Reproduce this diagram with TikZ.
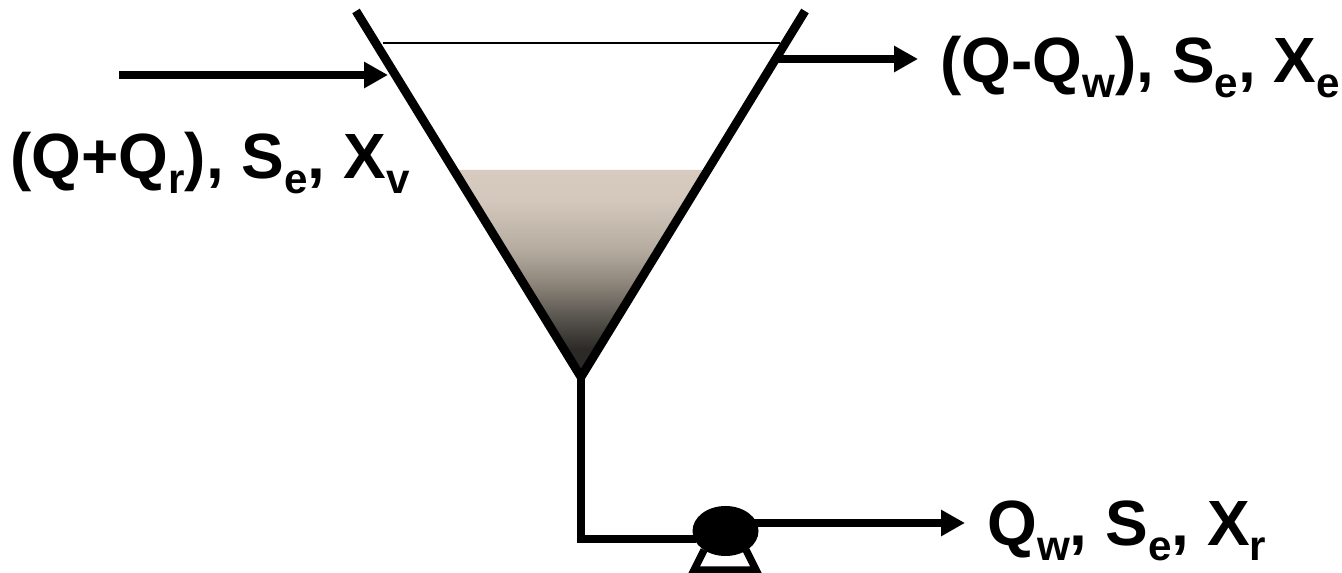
\documentclass[tikz,border=0pt]{standalone}
\usepackage{fontspec}
\setmainfont{Liberation Sans}
\usetikzlibrary{arrows.meta,shapes.geometric}
\definecolor{SludgeTop}{HTML}{D6CBBE}
\definecolor{SludgeA}{HTML}{D3C8BB}
\definecolor{SludgeB}{HTML}{B5AC9F}
\definecolor{SludgeC}{HTML}{8F877C}
\definecolor{SludgeD}{HTML}{5A5650}
\definecolor{SludgeE}{HTML}{2C2A27}
\pgfdeclareverticalshading{sludgefade}{100bp}{color(0bp)=(SludgeE); color(31.7bp)=(SludgeE); color(39.7bp)=(SludgeD); color(47.9bp)=(SludgeC); color(55.8bp)=(SludgeB); color(67.8bp)=(SludgeA); color(75bp)=(SludgeTop); color(100bp)=(SludgeTop)}
\newcommand{\lowtxt}[1]{\raisebox{-0.22em}{\fontsize{24pt}{24pt}\selectfont #1}}
\tikzset{
  figlabel/.style={font=\bfseries\fontsize{36.4pt}{38pt}\selectfont, text=black, inner sep=0pt, anchor=base west},
  tankwall/.style={line width=5pt, draw=black},
  pipeline/.style={line width=4.5pt, draw=black},
  flowarrow/.style={-{Triangle[length=0.48cm,width=0.5cm]}, line width=4.5pt, draw=black},
  pumpbody/.style={ellipse, fill=black, draw=none, minimum width=1.32cm, minimum height=1.0cm, inner sep=0pt}
}
\begin{document}
\begin{tikzpicture}
\useasboundingbox (0,0) rectangle (26.84,11.46);
\coordinate (walll) at (7.12,11.24);
\coordinate (wallr) at (16.10,11.24);
\coordinate (apex) at (11.62,3.92);
\coordinate (levell) at (7.66,10.60);
\coordinate (levelr) at (15.60,10.60);
\coordinate (sludgel) at (9.12,8.06);
\coordinate (sludger) at (14.12,8.06);
\coordinate (bend) at (11.62,0.68);
\coordinate (instart) at (2.38,9.96);
\coordinate (inend) at (7.76,9.96);
\coordinate (effstart) at (15.56,10.28);
\coordinate (effend) at (18.36,10.28);
\coordinate (wasteend) at (19.30,1.0);
% sludge blanket
\path[shading=sludgefade] (sludgel) -- (sludger) -- (apex) -- cycle;
% tank
\draw[line width=0.8pt] (levell) -- (levelr);
\draw[tankwall, line join=miter] (walll) -- (apex) -- (wallr);
% pump
\node[pumpbody] (pump) at (14.51,0.84) {};
\draw[line width=4.2pt, line join=miter] (14.08,0.46) -- (13.88,0.06) -- (15.12,0.06) -- (14.92,0.46);
% pipes
\draw[pipeline, line cap=rect] (apex) -- (bend) -- (pump.west |- bend);
\draw[flowarrow] (instart) -- (inend);
\draw[flowarrow] (effstart) -- (effend);
\draw[flowarrow] (pump.center |- wasteend) -- (wasteend);
% labels
\node[figlabel] (influent) at (0.2,7.88) {(Q+Q\lowtxt{r}), S\lowtxt{e}, X\lowtxt{v}};
\node[figlabel] (effluent) at (18.80,9.80) {(Q-Q\lowtxt{w}), S\lowtxt{e}, X\lowtxt{e}};
\node[figlabel] (waste) at (19.74,0.54) {Q\lowtxt{w}, S\lowtxt{e}, X\lowtxt{r}};
\end{tikzpicture}
\end{document}
